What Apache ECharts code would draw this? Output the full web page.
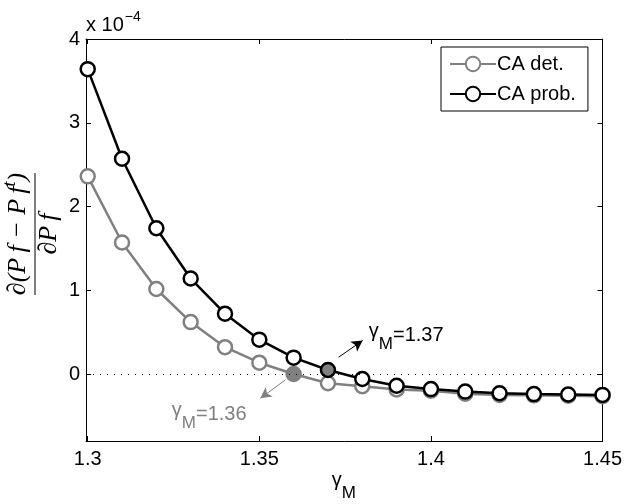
<!DOCTYPE html>
<html>
<head>
<meta charset="utf-8">
<script src="https://cdn.jsdelivr.net/npm/echarts@6/dist/echarts.min.js"></script>
<style>
  html, body { margin: 0; padding: 0; background: #fff; }
  #chart { width: 625px; height: 504px; }
</style>
</head>
<body>
<div id="chart"></div>
<script>
// gamma_M sweep (x) and sensitivity values in units of 1e-4
const gammaM = [1.30, 1.31, 1.32, 1.33, 1.34, 1.35, 1.36, 1.37, 1.38, 1.39, 1.40, 1.41, 1.42, 1.43, 1.44, 1.45];
const caDet  = [2.36, 1.57, 1.015, 0.62, 0.32, 0.135, 0.0, -0.11, -0.145, -0.185, -0.20, -0.235, -0.25, -0.255, -0.26, -0.265];
const caProb = [3.64, 2.57, 1.74, 1.14, 0.72, 0.41, 0.195, 0.048, -0.06, -0.14, -0.18, -0.21, -0.23, -0.24, -0.245, -0.25];
const xTicks = [1.3, 1.35, 1.4, 1.45];
const yTicks = [0, 1, 2, 3, 4];
// crossing points highlighted with filled markers
const detCross = 1.36;
const probCross = 1.37;

const GRAY = '#808080';
const FONT = '"Liberation Sans", Arial, sans-serif';
const SERIF_IT = 'italic {s}px "Liberation Serif", "DejaVu Serif", serif';
const X_MIN = 1.2995, X_MAX = 1.45, Y_MIN = -0.8, Y_MAX = 4;

// text width helper for composing sub/superscripts
const measureCtx = document.createElement('canvas').getContext('2d');
function textWidth(text, font) {
  measureCtx.font = font;
  return measureCtx.measureText(text).width;
}
function serif(size) { return SERIF_IT.replace('{s}', size); }

// lay out pieces left to right; each piece = {text, font, dy}
function composeText(pieces, x0, y0, color, centered) {
  const widths = pieces.map(p => textWidth(p.text, p.font));
  const total = widths.reduce((a, b) => a + b, 0);
  let x = centered ? x0 - total / 2 : x0;
  return pieces.map((p, i) => {
    const el = {
      type: 'text', x: x, y: y0 + (p.dy || 0), silent: true,
      style: { text: p.text, font: p.font, fill: color, align: 'left', verticalAlign: 'middle' }
    };
    x += widths[i];
    return el;
  });
}
function gammaLabel(x0, y0, tail, color) {
  return composeText([
    { text: 'γ', font: '20px ' + FONT, dy: -4 },
    { text: 'M', font: '17px ' + FONT, dy: 9 },
    { text: tail, font: '20px ' + FONT, dy: 0 }
  ], x0, y0, color, false);
}

function seriesData(values, crossX, edge) {
  return gammaM.map((g, i) => {
    const item = { value: [g, values[i]] };
    if (Math.abs(g - crossX) < 1e-9) {
      item.itemStyle = { color: GRAY, borderColor: edge };
    }
    return item;
  });
}

const chart = echarts.init(document.getElementById('chart'), null, { renderer: 'canvas' });

const tickStyle = { inside: true, length: 5, lineStyle: { color: '#000', width: 1 } };
const axisLineStyle = { show: true, onZero: false, lineStyle: { color: '#000', width: 1 } };

const option = {
  animation: false,
  backgroundColor: '#fff',
  grid: { left: 86, right: 22, top: 39, bottom: 63 },
  legend: {
    orient: 'vertical',
    left: 441,
    top: 47,
    padding: [7, 12, 7, 8],
    itemGap: 10,
    itemWidth: 46,
    itemHeight: 18,
    backgroundColor: '#fff',
    borderColor: '#000',
    borderWidth: 1,
    borderRadius: 0,
    textStyle: { fontFamily: FONT, fontSize: 20, color: '#000', padding: [0, 0, 0, -4] },
    data: ['CA det.', 'CA prob.']
  },
  xAxis: [
    {
      type: 'value', min: X_MIN, max: X_MAX,
      axisLine: axisLineStyle,
      axisTick: Object.assign({ customValues: xTicks }, tickStyle),
      axisLabel: { customValues: xTicks, color: '#000', fontFamily: FONT, fontSize: 20, margin: 8,
                   formatter: v => String(+v.toFixed(2)) },
      splitLine: { show: false }
    },
    {
      type: 'value', min: X_MIN, max: X_MAX, position: 'top',
      axisLine: axisLineStyle,
      axisTick: Object.assign({ customValues: xTicks }, tickStyle),
      axisLabel: { show: false },
      splitLine: { show: false }
    }
  ],
  yAxis: [
    {
      type: 'value', min: Y_MIN, max: Y_MAX,
      axisLine: axisLineStyle,
      axisTick: Object.assign({ customValues: yTicks }, tickStyle),
      axisLabel: { customValues: yTicks, color: '#000', fontFamily: FONT, fontSize: 20, margin: 6 },
      splitLine: { show: false }
    },
    {
      type: 'value', min: Y_MIN, max: Y_MAX, position: 'right',
      axisLine: axisLineStyle,
      axisTick: Object.assign({ customValues: yTicks }, tickStyle),
      axisLabel: { show: false },
      splitLine: { show: false }
    }
  ],
  series: [
    {
      name: 'CA det.',
      type: 'line',
      z: 2,
      data: seriesData(caDet, detCross, GRAY),
      symbol: 'circle',
      symbolSize: 14,
      showAllSymbol: true,
      lineStyle: { color: GRAY, width: 2.5 },
      itemStyle: { color: '#fff', borderColor: GRAY, borderWidth: 2.5 },
      markLine: {
        silent: true,
        symbol: ['none', 'none'],
        label: { show: false },
        lineStyle: { color: '#000', width: 1, type: [1, 6] },
        data: [[{ coord: [X_MIN, 0] }, { coord: [X_MAX, 0] }]]
      }
    },
    {
      name: 'CA prob.',
      type: 'line',
      z: 3,
      data: seriesData(caProb, probCross, '#000'),
      symbol: 'circle',
      symbolSize: 14,
      showAllSymbol: true,
      lineStyle: { color: '#000', width: 2.5 },
      itemStyle: { color: '#fff', borderColor: '#000', borderWidth: 2.5 }
    },
    {
      // arrows pointing at the crossing points
      name: 'arrows',
      type: 'line',
      data: [],
      z: 4,
      silent: true,
      markLine: {
        silent: true,
        symbol: ['none', 'arrow'],
        symbolSize: [9, 11],
        label: { show: false },
        data: [
          [{ coord: [1.3731, 0.2], lineStyle: { color: '#000', width: 1, type: 'solid' } },
           { coord: [1.3801, 0.40] }],
          [{ coord: [1.3576, -0.07], lineStyle: { color: GRAY, width: 1, type: 'solid' } },
           { coord: [1.3503, -0.29] }]
        ]
      }
    }
  ]
};

chart.setOption(option);

// text decorations placed from axis coordinates
const toPx = (x, y) => chart.convertToPixel({ xAxisIndex: 0, yAxisIndex: 0 }, [x, y]);
const p137 = toPx(1.3819, 0.46);
const p136 = toPx(1.3245, -0.478);
const pTop = toPx(X_MIN, Y_MAX);
const pBot = toPx((X_MIN + X_MAX) / 2, Y_MIN);

const numer = composeText([
  { text: '∂(P\u2009f − P\u2009f', font: serif(26), dy: 0 },
  { text: 't', font: serif(18), dy: -8 },
  { text: ')', font: serif(26), dy: 0 }
], 0, -17, '#000', true);
const denom = composeText([
  { text: '∂P\u2009f', font: serif(26), dy: 0 }
], 0, 14, '#000', true);

chart.setOption({
  graphic: [
    // axis scale factor above the y axis
    { type: 'text', x: pTop[0], y: pTop[1] - 14, silent: true,
      style: { text: 'x 10', font: '20px ' + FONT, fill: '#000', verticalAlign: 'middle' } },
    { type: 'text', x: pTop[0] + textWidth('x 10', '20px ' + FONT) + 1, y: pTop[1] - 22, silent: true,
      style: { text: '−4', font: '14px ' + FONT, fill: '#000', verticalAlign: 'middle' } },
    // x-axis name
    { type: 'group', children: gammaLabel(pBot[0] - 12.5, pBot[1] + 43, '', '#000') },
    // crossing-point annotations
    { type: 'group', children: gammaLabel(p137[0], p137[1], '=1.37', '#000') },
    { type: 'group', children: gammaLabel(p136[0], p136[1], '=1.36', GRAY) },
    // y-axis label: fraction drawn as a rotated group
    {
      type: 'group',
      x: 35, y: 234,
      rotation: Math.PI / 2,
      children: [
        { type: 'line', silent: true,
          shape: { x1: -61, y1: 0, x2: 61, y2: 0 },
          style: { stroke: '#000', lineWidth: 1 } }
      ].concat(numer, denom)
    }
  ]
});
</script>
</body>
</html>
